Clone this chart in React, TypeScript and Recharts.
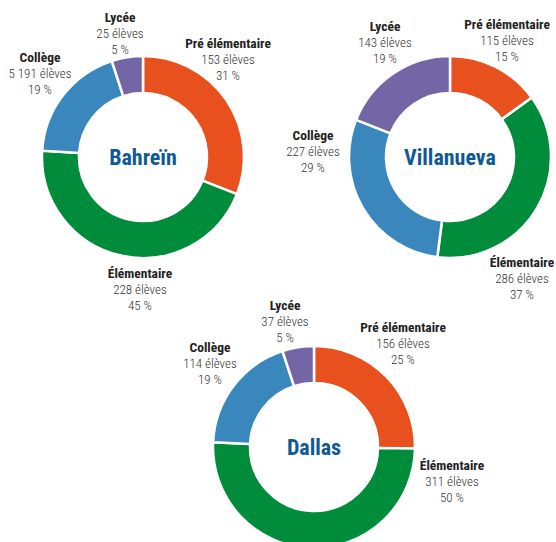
import React from 'react';
import { PieChart, Pie, Cell, Label } from 'recharts';

const categories = ['Pré élémentaire', 'Élémentaire', 'Collège', 'Lycée'];
const cities = ['Bahreïn', 'Villanueva', 'Dallas'];
const bahreinPercent = [31, 45, 19, 5];
const bahreinCount = ['153', '228', '5 191', '25'];
const villanuevaPercent = [15, 37, 29, 19];
const villanuevaCount = ['115', '286', '227', '143'];
const dallasPercent = [25, 50, 19, 5];
const dallasCount = ['156', '311', '114', '37'];

const COLORS = ['#E8501E', '#008C3A', '#3A87BE', '#7466A6'];
const FONT = 'Roboto Condensed';

const build = (perc: number[], counts: string[]) =>
  categories.map((name, i) => ({ name, value: perc[i], count: counts[i], pct: perc[i] }));

const pies = [
  {
    city: cities[0], cx: 143, cy: 157, data: build(bahreinPercent, bahreinCount),
    offsets: [[85, -114], [-3, 116], [-103, -100], [-23, -140]],
  },
  {
    city: cities[1], cx: 450, cy: 157, data: build(villanuevaPercent, villanuevaCount),
    offsets: [[57, -133], [72, 105], [-137, -22], [-65, -131]],
  },
  {
    city: cities[2], cx: 314, cy: 447, data: build(dallasPercent, dallasCount),
    offsets: [[89, -120], [138, 18], [-104, -100], [-29, -142]],
  },
];

const LINE = 16.3;

const makeLabel = (p: typeof pies[number]) => (props: any) => {
  const i = props.index;
  const d = p.data[i];
  const [dx, dy] = p.offsets[i];
  const x = p.cx + dx;
  const y = p.cy + dy;
  return (
    <g key={`lbl-${p.city}-${i}`}>
      <text x={x} y={y} textAnchor="middle" dominantBaseline="central" fontFamily={FONT} fontSize={13.5} fontWeight={700} fill="#222222">
        {d.name}
      </text>
      <text x={x} y={y + LINE} textAnchor="middle" dominantBaseline="central" fontFamily={FONT} fontSize={13} fontWeight={300} fill="#333333">
        {`${d.count} élèves`}
      </text>
      <text x={x} y={y + 2 * LINE} textAnchor="middle" dominantBaseline="central" fontFamily={FONT} fontSize={13} fontWeight={300} fill="#333333">
        {`${d.pct} %`}
      </text>
    </g>
  );
};

export default function App() {
  return (
    <div style={{ position: 'absolute', left: 0, top: 0, width: 556, height: 542, background: '#fff' }}>
      <PieChart width={556} height={542} margin={{ top: 0, right: 0, bottom: 0, left: 0 }}>
        {pies.map((p) => (
          <Pie
            key={p.city}
            data={p.data}
            dataKey="value"
            nameKey="name"
            cx={p.cx}
            cy={p.cy}
            innerRadius={64}
            outerRadius={101}
            startAngle={90}
            endAngle={-270}
            stroke="#ffffff"
            strokeWidth={2.5}
            isAnimationActive={false}
            labelLine={false}
            label={makeLabel(p)}
          >
            {p.data.map((d, i) => (
              <Cell key={d.name} fill={COLORS[i]} />
            ))}
            <Label
              position="center"
              content={() => (
                <text
                  x={p.cx}
                  y={p.cy}
                  textAnchor="middle"
                  dominantBaseline="central"
                  fontFamily={FONT}
                  fontSize={22}
                  fontWeight={700}
                  fill="#0F5A96"
                >
                  {p.city}
                </text>
              )}
            />
          </Pie>
        ))}
      </PieChart>
    </div>
  );
}
